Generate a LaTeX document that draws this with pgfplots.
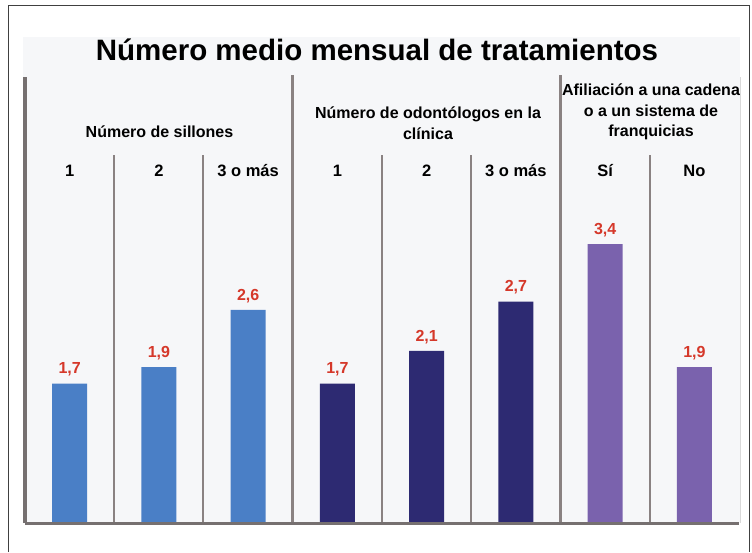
\documentclass[border=0pt]{standalone}
\usepackage{fontspec}
\setmainfont{Liberation Sans}
\usepackage{pgfplots}
\pgfplotsset{compat=1.18}
\definecolor{cblue}{HTML}{4A7FC6}
\definecolor{cnavy}{HTML}{2D2A72}
\definecolor{cpurple}{HTML}{7A62AD}
\definecolor{cred}{HTML}{D5382A}
\definecolor{cline}{HTML}{8A8282}
\definecolor{caxis}{HTML}{767070}
\definecolor{cbg}{HTML}{F6F7F9}
\begin{document}
\begin{tikzpicture}[x=1pt,y=1pt]
\path[use as bounding box] (0,0) rectangle (752,552);
% frame
\draw[line width=1pt, black!75] (8,0) -- (8,546) -- (749,546) -- (749,0);
% light background
\fill[cbg] (23,29) rectangle (740,515);
\draw[line width=1pt, black!15] (740,29) -- (740,475);
% title
\node[font=\bfseries\fontsize{29.5}{35}\selectfont] at (377,502) {Número medio mensual de tratamientos};
% group labels
\node[font=\bfseries\fontsize{16}{20.5}\selectfont, align=center] at (159.5,420) {Número de sillones};
\node[font=\bfseries\fontsize{16}{20.5}\selectfont, align=center] at (428,429) {Número de odontólogos en la\\clínica};
\node[font=\bfseries\fontsize{16}{20.5}\selectfont, align=center] at (651,440) {Afiliación a una cadena\\o a un sistema de\\franquicias};
\begin{axis}[
  at={(25pt,29pt)}, anchor=south west,
  scale only axis, width=714pt, height=492pt,
  xmin=-0.5, xmax=7.5, ymin=0, ymax=6,
  clip=false,
  axis line style={draw=none},
  ytick=\empty,
  xtick={0,1,2,3,4,5,6,7},
  xticklabels={1,2,3 o más,1,2,3 o más,Sí,No},
  major tick length=0pt,
  xticklabel style={anchor=center, yshift=352pt, font=\bfseries\fontsize{16.5}{19}\selectfont},
  ybar, bar width=35pt,
  /pgf/number format/.cd, use comma, fixed, fixed zerofill, precision=1, assume math mode=true,
  /pgfplots/.cd,
  nodes near coords,
  nodes near coords style={anchor=south, inner sep=0pt, yshift=7pt, text=cred, font=\bfseries\fontsize{16}{19}\selectfont},
]
% separators
\draw[caxis, line width=3.5pt] (axis cs:-0.5,0) -- (axis cs:-0.5,5.44);
\draw[cline, line width=2.5pt] (axis cs:2.5,0) -- (axis cs:2.5,5.46);
\draw[cline, line width=2.5pt] (axis cs:5.5,0) -- (axis cs:5.5,5.46);
\draw[cline, line width=2pt] (axis cs:0.5,0) -- (axis cs:0.5,4.49);
\draw[cline, line width=2pt] (axis cs:1.5,0) -- (axis cs:1.5,4.49);
\draw[cline, line width=2pt] (axis cs:3.5,0) -- (axis cs:3.5,4.49);
\draw[cline, line width=2pt] (axis cs:4.5,0) -- (axis cs:4.5,4.49);
\draw[cline, line width=2pt] (axis cs:6.5,0) -- (axis cs:6.5,4.49);
\addplot[fill=cblue, draw=none, bar shift=0pt] coordinates {(0,1.7) (1,1.9) (2,2.6)};
\addplot[fill=cnavy, draw=none, bar shift=0pt] coordinates {(3,1.7) (4,2.1) (5,2.7)};
\addplot[fill=cpurple, draw=none, bar shift=0pt] coordinates {(6,3.4) (7,1.9)};
\draw[caxis, line width=3pt] (axis cs:-0.5,0) -- (axis cs:7.5,0);
\end{axis}
\end{tikzpicture}
\end{document}
